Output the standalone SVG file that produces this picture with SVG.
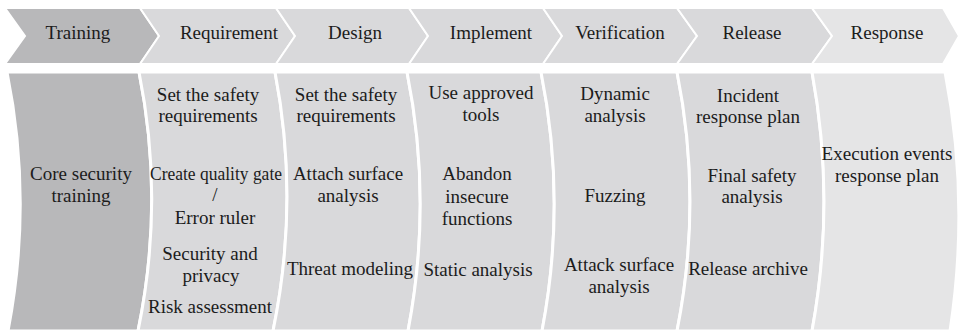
<svg xmlns="http://www.w3.org/2000/svg" width="959" height="330" viewBox="0 0 959 330">
<style>
  .hd { stroke: #ffffff; stroke-width: 2; stroke-linejoin: miter; }
  .col { stroke: #ffffff; stroke-width: 3; }
  .dark { fill: #b8b8ba; }
  .mid { fill: #d9d9db; }
  .light { fill: #e5e5e6; }
  .t { font-size: 19px; fill: #1c1c1c; text-anchor: middle; }
</style>
<rect x="0" y="0" width="959" height="330" fill="#ffffff"/>

<g font-family="'Liberation Serif', 'Times New Roman', Times, 'DejaVu Serif', serif">
<g id="stage-training">
  <path class="hd dark" d="M5,8 L140,8 L159,36 L140,64 L5,64 L25,36 Z"/>
  <text class="t" x="78" y="39">Training</text>
  <path class="col dark" d="M7,72 Q33,201 8,331 L138,331 Q165,201 139,72 Z"/>
  <text class="t" x="81" y="180">Core security</text>
  <text class="t" x="81" y="202">training</text>
</g>

<g id="stage-requirement">
  <path class="hd mid" d="M140,8 L276,8 L295,36 L276,64 L140,64 L159,36 Z"/>
  <text class="t" x="229" y="39">Requirement</text>
  <path class="col mid" d="M139,72 Q165,201 138,331 L273,331 Q300,201 275,72 Z"/>
  <text class="t" x="208" y="101">Set the safety</text>
  <text class="t" x="208" y="122">requirements</text>
  <text class="t" x="216" y="180" textLength="132" lengthAdjust="spacingAndGlyphs">Create quality gate</text>
  <text class="t" x="215" y="201">/</text>
  <text class="t" x="215" y="224">Error ruler</text>
  <text class="t" x="210" y="260">Security and</text>
  <text class="t" x="211" y="282">privacy</text>
  <text class="t" x="210" y="313">Risk assessment</text>
</g>

<g id="stage-design">
  <path class="hd mid" d="M276,8 L409,8 L428,36 L409,64 L276,64 L295,36 Z"/>
  <text class="t" x="355" y="39">Design</text>
  <path class="col mid" d="M275,72 Q300,201 273,331 L408,331 Q433,201 407,72 Z"/>
  <text class="t" x="346" y="101">Set the safety</text>
  <text class="t" x="346" y="122">requirements</text>
  <text class="t" x="348" y="180">Attach surface</text>
  <text class="t" x="348" y="202">analysis</text>
  <text class="t" x="350" y="275">Threat modeling</text>
</g>

<g id="stage-implement">
  <path class="hd mid" d="M409,8 L543,8 L562,36 L543,64 L409,64 L428,36 Z"/>
  <text class="t" x="491" y="39">Implement</text>
  <path class="col mid" d="M407,72 Q433,201 408,331 L542,331 Q567,201 541,72 Z"/>
  <text class="t" x="481" y="99">Use approved</text>
  <text class="t" x="481" y="121">tools</text>
  <text class="t" x="477" y="180">Abandon</text>
  <text class="t" x="477" y="203">insecure</text>
  <text class="t" x="477" y="225">functions</text>
  <text class="t" x="478" y="276">Static analysis</text>
</g>

<g id="stage-verification">
  <path class="hd mid" d="M543,8 L677,8 L697,36 L677,64 L543,64 L562,36 Z"/>
  <text class="t" x="620" y="39">Verification</text>
  <path class="col mid" d="M541,72 Q567,201 542,331 L677,331 Q703,201 677,72 Z"/>
  <text class="t" x="615" y="100">Dynamic</text>
  <text class="t" x="615" y="122">analysis</text>
  <text class="t" x="615" y="202">Fuzzing</text>
  <text class="t" x="619" y="271">Attack surface</text>
  <text class="t" x="619" y="293">analysis</text>
</g>

<g id="stage-release">
  <path class="hd mid" d="M677,8 L812,8 L832,36 L812,64 L677,64 L697,36 Z"/>
  <text class="t" x="752" y="39">Release</text>
  <path class="col mid" d="M677,72 Q703,201 677,331 L812,331 Q836,201 812,72 Z"/>
  <text class="t" x="748" y="102">Incident</text>
  <text class="t" x="748" y="123">response plan</text>
  <text class="t" x="752" y="182">Final safety</text>
  <text class="t" x="752" y="203">analysis</text>
  <text class="t" x="748" y="275">Release archive</text>
</g>

<g id="stage-response">
  <path class="hd light" d="M812,8 L943,8 L959,36 L943,64 L812,64 L832,36 Z"/>
  <text class="t" x="887" y="39">Response</text>
  <path class="col light" d="M812,72 Q836,201 812,331 L950,331 Q970,201 945,72 Z"/>
  <text class="t" x="887" y="160" textLength="131" lengthAdjust="spacingAndGlyphs">Execution events</text>
  <text class="t" x="887" y="182">response plan</text>
</g>
</g>
</svg>
